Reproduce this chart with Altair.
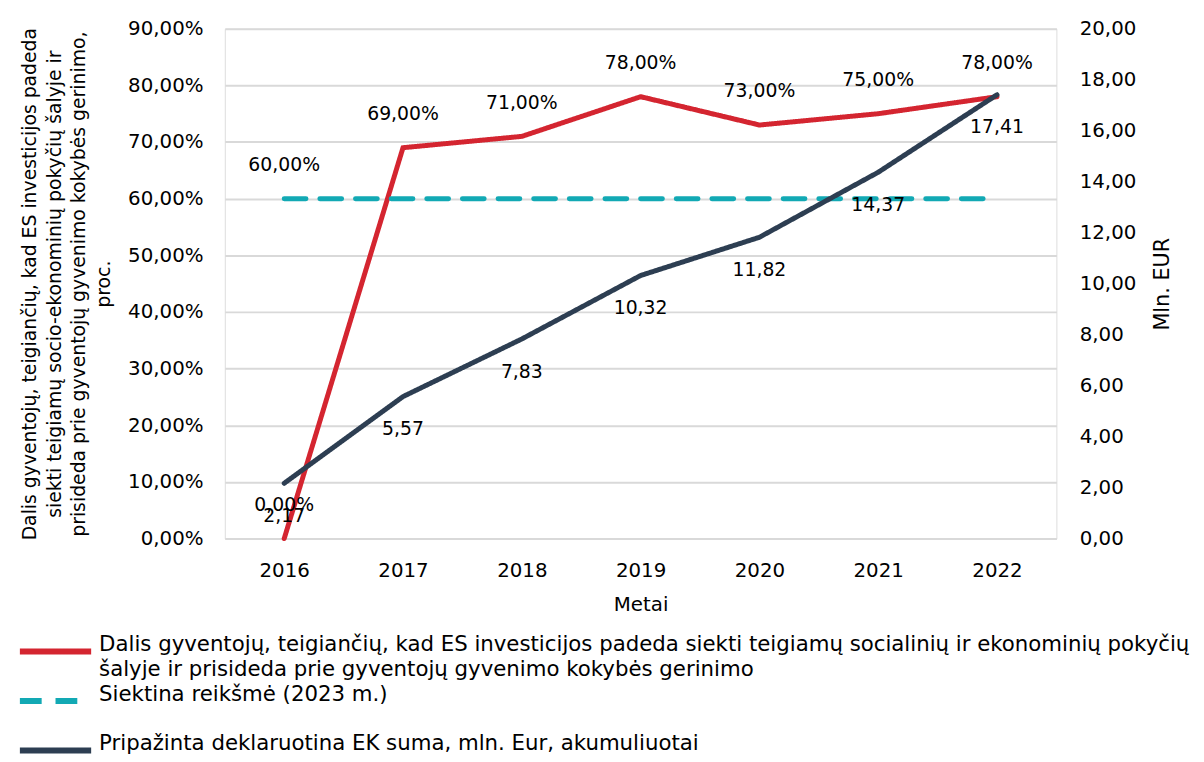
import altair as alt
import pandas as pd

years = ["2016", "2017", "2018", "2019", "2020", "2021", "2022"]
share_pct = [0.0, 69.0, 71.0, 78.0, 73.0, 75.0, 78.0]
target_pct = [60.0, 60.0, 60.0, 60.0, 60.0, 60.0, 60.0]
ek_sum = [2.17, 5.57, 7.83, 10.32, 11.82, 14.37, 17.41]

name_share = ("Dalis gyventojų, teigiančių, kad ES investicijos padeda siekti teigiamų socialinių ir ekonominių pokyčių\n"
              "šalyje ir prisideda prie gyventojų gyvenimo kokybės gerinimo")
name_target = "Siektina reikšmė (2023 m.)\n "
name_ek = "Pripažinta deklaruotina EK suma, mln. Eur, akumuliuotai\n "
names = [name_share, name_target, name_ek]
colors = ["#d42530", "#12a9b4", "#2d3e52"]
dashes = [[1, 0], [22, 14], [1, 0]]

left_title = [
    "Dalis gyventojų, teigiančių, kad ES investicijos padeda",
    "siekti teigiamų socio-ekonominių pokyčių šalyje ir",
    "prisideda prie gyventojų gyvenimo kokybės gerinimo,",
    "proc.",
]

FONT = "DejaVu Sans"

left_df = pd.DataFrame({
    "year": years * 2,
    "value": share_pct + target_pct,
    "series": [name_share] * 7 + [name_target] * 7,
    "show": [True] * 7 + [True] + [False] * 6,
})
right_df = pd.DataFrame({"year": years, "value": ek_sum, "series": [name_ek] * 7})

color = alt.Color(
    "series:N",
    scale=alt.Scale(domain=names, range=colors),
    legend=alt.Legend(
        title=None, orient="none", legendX=-210, legendY=614, direction="vertical",
        columns=1, symbolType="M-1,0H5", symbolSize=576, symbolStrokeWidth=6,
        symbolFillColor="transparent",
        labelFont=FONT, labelFontSize=21.5, labelColor="#000000", labelLimit=1200,
        labelBaseline="alphabetic", rowPadding=3, labelOffset=53,
        labelExpr="split(datum.label, '\\n')",
    ),
)
dash = alt.StrokeDash(
    "series:N",
    scale=alt.Scale(domain=names, range=dashes),
    legend=None,
)

x = alt.X(
    "year:O", sort=years,
    axis=alt.Axis(title="Metai", labelAngle=0, ticks=False, domain=False,
                  labelPadding=22, titlePadding=15, labelFontSize=20,
                  titleFontSize=20, labelFont=FONT, titleFont=FONT,
                  titleFontWeight="normal", labelColor="#000", titleColor="#000",
                  grid=False),
)

y_left = alt.Y(
    "value:Q",
    scale=alt.Scale(domain=[0, 90]),
    axis=alt.Axis(
        title=left_title, values=list(range(0, 91, 10)), ticks=False, domain=False,
        labelExpr="replace(format(datum.value, '.2f'), '.', ',') + '%'",
        labelFontSize=20, labelFont=FONT, labelColor="#000", labelPadding=22,
        titleFontSize=19, titleFont=FONT, titleFontWeight="normal", titleColor="#000",
        titlePadding=14, titleLineHeight=25,
        grid=True, gridColor="#d9d9d9", gridWidth=2,
    ),
)

y_right = alt.Y(
    "value:Q",
    scale=alt.Scale(domain=[0, 20]),
    axis=alt.Axis(
        title="Mln. EUR", orient="right", values=list(range(0, 21, 2)), ticks=False,
        domain=False, grid=False, titleAngle=270, titleBaseline="top",
        labelExpr="replace(format(datum.value, '.2f'), '.', ',')",
        labelFontSize=20, labelFont=FONT, labelColor="#000", labelPadding=23,
        titleFontSize=21, titleFont=FONT, titleFontWeight="normal", titleColor="#000",
        titlePadding=16,
    ),
)

left_base = alt.Chart(left_df)
left_lines = left_base.mark_line(strokeWidth=5, strokeCap="round").encode(
    x=x, y=y_left, color=color, strokeDash=dash, detail="series:N"
)
left_labels = left_base.mark_text(dy=-34, font=FONT, fontSize=19, color="#000").transform_filter(
    "datum.show"
).transform_calculate(
    lab="replace(format(datum.value, '.2f'), '.', ',') + '%'"
).encode(x=x, y=y_left, text="lab:N")

right_base = alt.Chart(right_df)
right_line = right_base.mark_line(strokeWidth=5, strokeCap="round").encode(
    x=x, y=y_right, color=color, strokeDash=dash
)
right_labels = right_base.mark_text(dy=33, font=FONT, fontSize=19, color="#000").transform_calculate(
    lab="replace(format(datum.value, '.2f'), '.', ',')"
).encode(x=x, y=y_right, text="lab:N")

left_layer = alt.layer(left_lines, left_labels)
right_layer = alt.layer(right_line, right_labels)

chart = alt.layer(left_layer, right_layer).resolve_scale(
    y="independent"
).properties(
    width=840, height=515,
    padding={"left": 9, "top": 7, "right": 5, "bottom": 5},
).configure_view(stroke=None).configure(
    background="#ffffff",
    style={"guide-label": {"lineHeight": 25}},
)

chart.save("out.html", embed_options={"renderer": "svg", "actions": False})
